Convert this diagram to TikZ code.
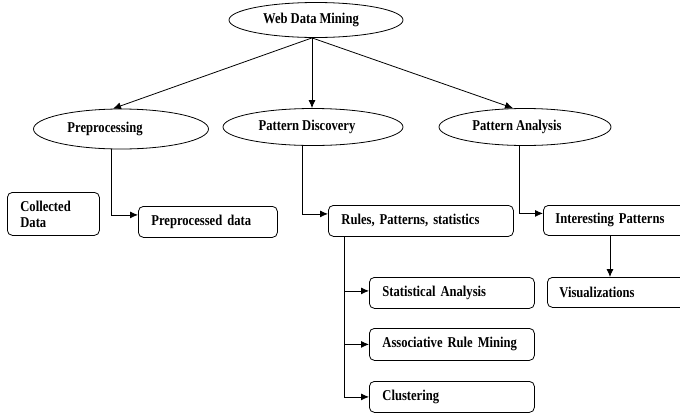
\documentclass[tikz,border=0pt]{standalone}
\usepackage{fontspec}
\setmainfont{Liberation Serif}[FakeStretch=0.84]
\usetikzlibrary{arrows.meta,shapes.geometric}
\newcommand\diagfont{\fontsize{15}{16}\selectfont\bfseries\spaceskip=0.2em plus 0.1em\relax}
\begin{document}
\begin{tikzpicture}[x=1pt,y=-1pt,
  line width=0.8pt,
  every node/.style={font=\diagfont},
  ell/.style={draw, ellipse, inner sep=0pt},
  etext/.style={inner sep=0pt},
  box/.style={draw, rounded corners=5pt, rectangle, anchor=north west, inner xsep=13pt, inner ysep=0pt, align=left},
  arr/.style={-{Latex[length=8pt,width=7pt]}}
]
\useasboundingbox (0,0) rectangle (680,413);
\clip (0,0) rectangle (680,413);
\fill[white] (0,0) rectangle (680,413);

% ellipses
\node[ell, minimum width=174pt, minimum height=35pt] (wdm) at (316,20) {};
\node[ell, minimum width=175pt, minimum height=40pt] (pre) at (121,129) {};
\node[ell, minimum width=180pt, minimum height=37pt] (pd) at (313,127) {};
\node[ell, minimum width=172pt, minimum height=37pt] (pa) at (525,127) {};
\node[etext] (wdmt) at ([xshift=-5pt]wdm.center) {Web Data Mining};
\node[etext] (pret) at ([xshift=-16pt]pre.center) {Preprocessing};
\node[etext] (pdt) at ([xshift=-6pt]pd.center) {Pattern Discovery};
\node[etext] (pat) at ([xshift=-8pt]pa.center) {Pattern Analysis};

% boxes
\node[box, minimum height=43pt, text width=66pt] (cd) at (7,192) {Collected\\Data};
\node[box, minimum height=31pt, text width=113pt] (ppd) at (138,206) {Preprocessed data};
\node[box, minimum height=31pt, text width=159pt] (rules) at (328,205) {Rules, Patterns, statistics};
\node[box, minimum height=30pt, text width=136pt, inner xsep=12pt] (ip) at (543,205) {Interesting Patterns};
\node[box, minimum height=31pt, text width=139pt] (sa) at (369,277) {Statistical Analysis};
\node[box, minimum height=32pt, text width=139pt] (arm) at (369,328) {Associative Rule Mining};
\node[box, minimum height=31pt, text width=139pt] (cl) at (369,381) {Clustering};
\node[box, minimum height=30pt, text width=136pt, inner xsep=12pt] (vis) at (547,277) {Visualizations};

% connectors
\draw[arr] ([xshift=-4pt]wdm.south) -- ([xshift=-8pt]pre.north);
\draw[arr] ([xshift=-4pt]wdm.south) -- ([xshift=-1pt]pd.north);
\draw[arr] ([xshift=-4pt]wdm.south) -- ([xshift=-12pt]pa.north);

\draw[arr] ([xshift=-10pt]pre.south) |- ([yshift=7pt]ppd.west);
\draw[arr] ([xshift=-11pt]pd.south) |- ([yshift=7pt]rules.west);
\draw[arr] ([xshift=-6pt]pa.south) |- ([yshift=7pt]ip.west);

\coordinate (rt) at ([xshift=16pt]rules.south west);
\draw[arr] (rt) |- ([yshift=2pt]sa.west);
\draw[arr] (rt) |- (arm.west);
\draw[arr] (rt) |- (cl.west);

\coordinate (ipb) at ([xshift=67pt]ip.south west);
\draw[arr] (ipb) -- (ipb |- vis.north);
\end{tikzpicture}
\end{document}
